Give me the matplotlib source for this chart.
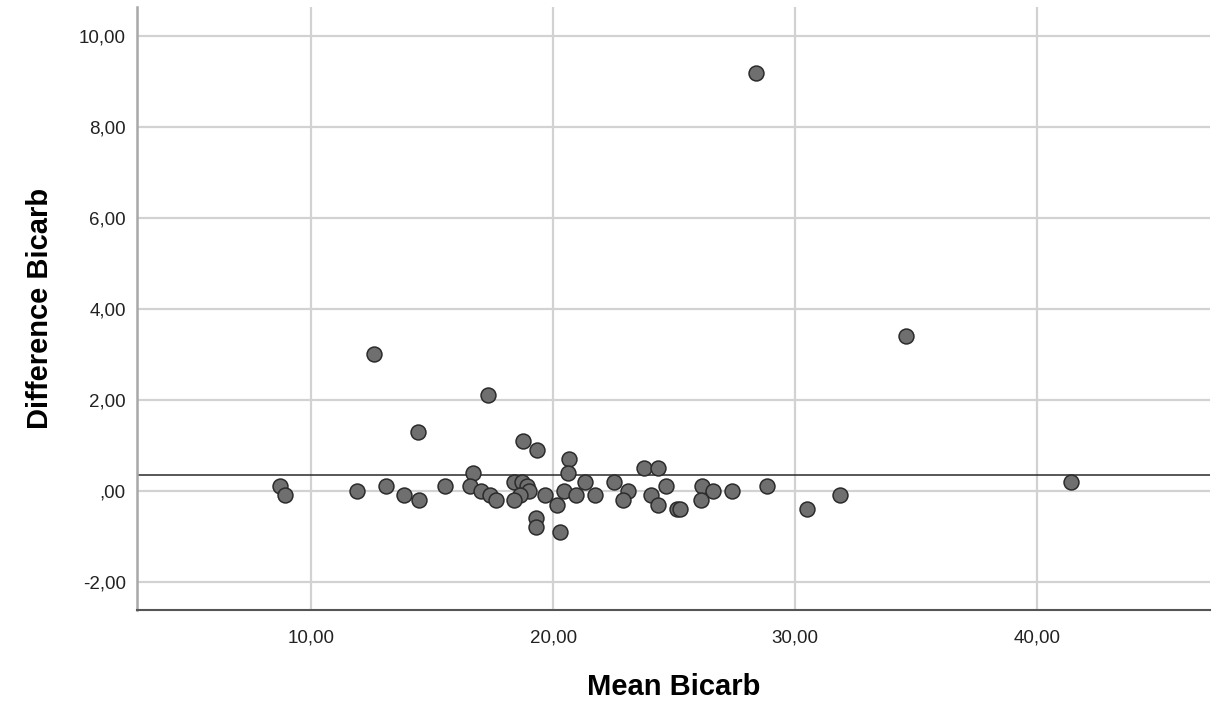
import matplotlib.pyplot as plt
from matplotlib.ticker import FuncFormatter

# Bland-Altman style data: mean vs difference of bicarbonate
mean_bicarb = [8.7, 8.9, 11.9, 13.1, 13.85, 14.45, 14.4, 15.55,
               18.75, 19.35, 16.7, 16.55, 17.0, 17.4, 17.65, 18.4, 18.7, 18.9,
               19.0, 18.65, 18.4, 19.3, 19.3, 19.65, 20.15, 20.3, 20.45, 20.65,
               20.6, 20.95, 21.3, 21.75,
               22.5, 23.1, 22.9, 23.75, 24.35, 24.65, 24.05, 24.35, 25.1, 25.25,
               26.15, 26.6, 26.1, 27.4,
               28.85, 30.5, 31.85,
               12.6, 17.3, 34.6, 41.4, 28.4]
diff_bicarb = [0.1, -0.1, 0.0, 0.1, -0.1, -0.2, 1.3, 0.1,
               1.1, 0.9, 0.4, 0.1, 0.0, -0.1, -0.2, 0.2, 0.2, 0.1,
               0.0, -0.1, -0.2, -0.6, -0.8, -0.1, -0.3, -0.9, 0.0, 0.7,
               0.4, -0.1, 0.2, -0.1,
               0.2, 0.0, -0.2, 0.5, 0.5, 0.1, -0.1, -0.3, -0.4, -0.4,
               0.1, 0.0, -0.2, 0.0,
               0.1, -0.4, -0.1,
               3.0, 2.1, 3.4, 0.2, 9.2]

mean_diff = sum(diff_bicarb) / len(diff_bicarb)

x_ticks = [10, 20, 30, 40]
y_ticks = [-2, 0, 2, 4, 6, 8, 10]


def comma_fmt(v, pos):
    s = f"{v:.2f}".replace(".", ",")
    if s.startswith("0,"):
        s = s[1:]
    return s


plt.rcParams['font.family'] = ['Liberation Sans', 'DejaVu Sans']

fig = plt.figure(figsize=(12.25, 7.04), dpi=100)
ax = fig.add_axes([0.1118, 0.1335, 0.876, 0.8565])

ax.set_xlim(2.8, 47.15)
ax.set_ylim(-2.62, 10.64)
ax.set_xticks(x_ticks)
ax.set_yticks(y_ticks)
ax.xaxis.set_major_formatter(FuncFormatter(comma_fmt))
ax.yaxis.set_major_formatter(FuncFormatter(comma_fmt))

ax.grid(True, color='#d2d2d2', linewidth=1.6)
ax.set_axisbelow(True)

ax.axhline(mean_diff, color='#2a2a2a', linewidth=1.1, zorder=2)

ax.scatter(mean_bicarb, diff_bicarb, s=115, color='#6f6f6f',
           edgecolors='#2b2b2b', linewidths=1.1, zorder=3)

for side in ['top', 'right']:
    ax.spines[side].set_visible(False)
ax.spines['left'].set_color('#a8a8a8')
ax.spines['left'].set_linewidth(1.8)
ax.spines['bottom'].set_color('#555555')
ax.spines['bottom'].set_linewidth(1.5)

ax.tick_params(axis='x', length=0, pad=14, labelsize=13.5, labelcolor='#222222')
ax.tick_params(axis='y', length=0, pad=8, labelsize=13.5, labelcolor='#222222')

ax.set_xlabel('Mean Bicarb', fontsize=21, fontweight='bold', labelpad=19)
ax.set_ylabel('Difference Bicarb', fontsize=21, fontweight='bold', labelpad=18)

fig.savefig('out.png', dpi=100)
